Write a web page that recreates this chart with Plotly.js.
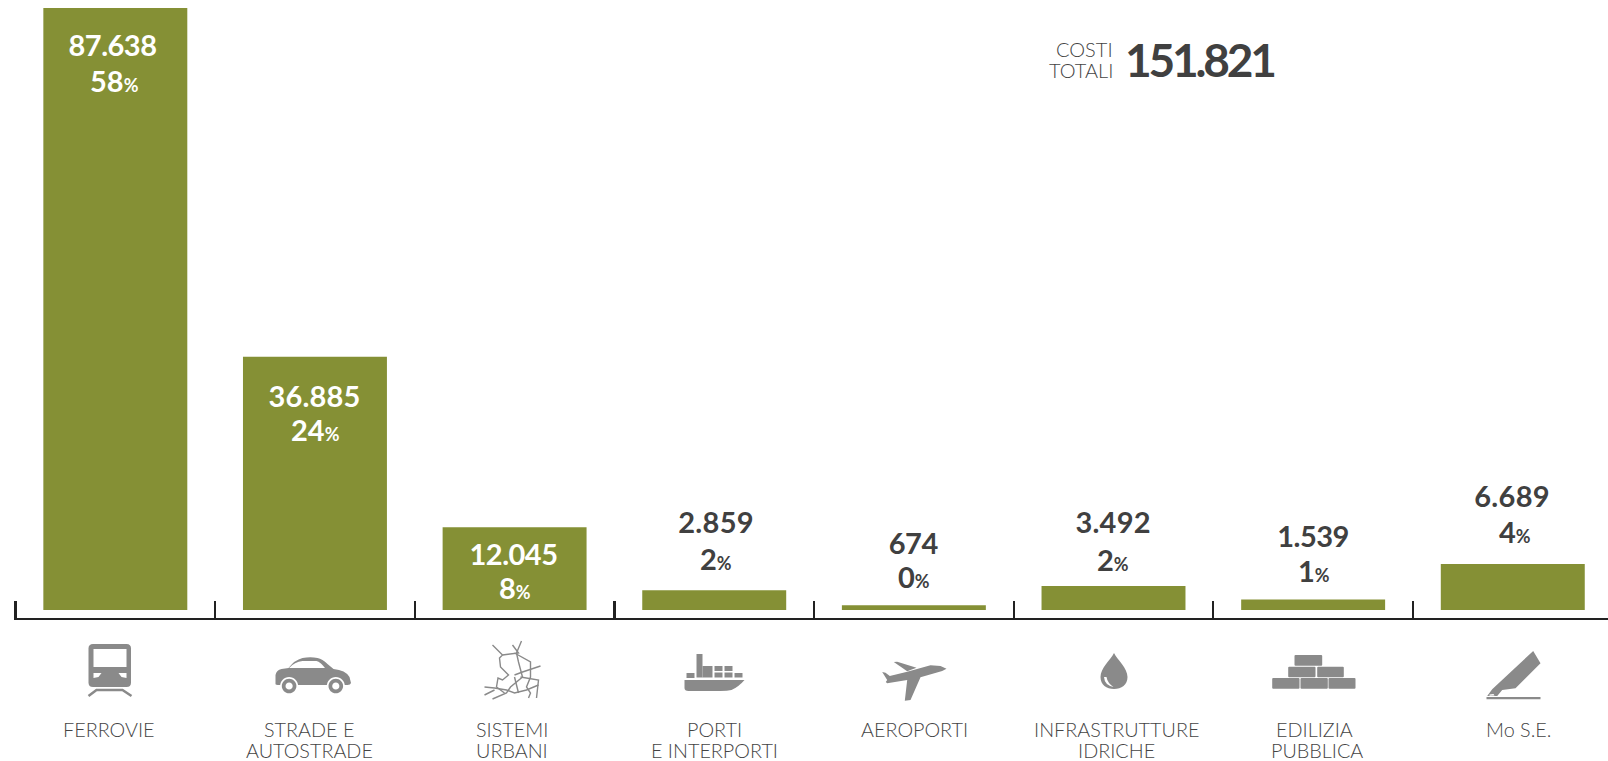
<!DOCTYPE html>
<html><head><meta charset="utf-8">
<script src="https://cdn.plot.ly/plotly-3.0.1.min.js"></script>
<style>html,body{margin:0;padding:0;background:#fff;overflow:hidden}#c{width:1608px;height:761px}</style>
</head><body><div id="c"></div>
<script>
const categories = ["FERROVIE","STRADE E|AUTOSTRADE","SISTEMI|URBANI","PORTI|E INTERPORTI","AEROPORTI","INFRASTRUTTURE|IDRICHE","EDILIZIA|PUBBLICA","Mo S.E."];
const costs = [87638,36885,12045,2859,674,3492,1539,6689];
const percents = [58,24,8,2,0,2,1,4];
const totalCost = 151821;
const totalLabel = ["COSTI","TOTALI"];

const W=1608,H=761,L=13.5,AX=618,STEP=199.7;
const olive="#859035", dark="#404040", label="#444444", icon="#8a8a8a";
const fontFam="Lato, 'Open Sans', sans-serif";
const lightFam="Lato Light, Lato, sans-serif";
const px=v=>(v-L)/(W-L), py=v=>(AX-v)/AX;
const fmt=n=>String(n).replace(/\B(?=(\d{3})+$)/g,".");

// label placement (page pixels)
const valY=[45,395,553,521,542.5,521,535,495];
const pctY=[80,429,587,558,576.5,559,570,531];
const valX=[112,314,513,716,913,1113,1313,1512];
const pctX=[114,315,515,716,914,1113,1314,1515];
const valTrack=["-0.5px","0.2px","-0.5px","0.3px","-0.5px","0.2px","-0.5px","0.3px"];
const catX=[109,309,512,714,914,1116,1314,1518];
const ann=[];
function T(x,y,text,size,color,anchor,family){
  ann.push({xref:"paper",yref:"paper",x:px(x),y:py(y),text,showarrow:false,xanchor:anchor||"center",yanchor:"middle",
    font:{size,color,family:family||fontFam,weight:400},align:anchor||"center",borderpad:0,borderwidth:0});
  return ann.length-1;
}
const tight={};
costs.forEach((v,i)=>{
  const c=i<3?"#ffffff":dark;
  tight[T(valX[i],valY[i],"<b>"+fmt(v)+"</b>",29,c)]=valTrack[i];
  T(pctX[i],pctY[i],"<b>"+percents[i]+"<span style='font-size:18px'>%</span></b>",29,c);
});
categories.forEach((s,i)=>{
  s.split("|").forEach((ln,j)=>T(catX[i]+(ln==="PUBBLICA"?3:0),729+j*21,ln,19.8,label,"center",lightFam));
});
T(1113,49.5,totalLabel[0],20,label,"right",lightFam);
T(1113,70.5,totalLabel[1],20,label,"right",lightFam);
tight[T(1125,59.5,"<b>"+fmt(totalCost)+"</b>",46,dark,"left")]="-3.2px";

// pictograms: page-pixel outlines converted for pixel-sized shapes
const conv=d=>d.replace(/(-?[\d.]+),(-?[\d.]+)/g,(m,a,b)=>(+a-L).toFixed(1)+","+(AX-b).toFixed(1));
const shapes=[];
function P(d,fill,lineColor,lw){
  shapes.push({type:"path",xref:"paper",yref:"paper",xsizemode:"pixel",ysizemode:"pixel",xanchor:0,yanchor:0,layer:"above",
    path:conv(d),fillcolor:fill||"rgba(0,0,0,0)",line:{color:lineColor||"rgba(0,0,0,0)",width:lw||0}});
}
const R=(a,b,c,d)=>`M${a},${b} L${c},${b} L${c},${d} L${a},${d} Z`;
const RR=(a,b,c,d,r=1)=>`M${a+r},${b} L${c-r},${b} Q${c},${b} ${c},${b+r} L${c},${d-r} Q${c},${d} ${c-r},${d} L${a+r},${d} Q${a},${d} ${a},${d-r} L${a},${b+r} Q${a},${b} ${a+r},${b} Z`;
const C=(x,y,r)=>{const k=r*.5523;return `M${x-r},${y} C${x-r},${y-k} ${x-k},${y-r} ${x},${y-r} C${x+k},${y-r} ${x+r},${y-k} ${x+r},${y} C${x+r},${y+k} ${x+k},${y+r} ${x},${y+r} C${x-k},${y+r} ${x-r},${y+k} ${x-r},${y} Z`;};
const PL=a=>"M"+a.map(p=>p.join(",")).join(" L");

// train
P(RR(88,644,130.5,687,4.5),icon);
P(R(93,649,126,667),"#fff");
P("M93,673 L101,673 L98,677 L93,678 Z","#fff");
P("M126,673 L118,673 L121,677 L126,678 Z","#fff");
P("M88,696 L96,690 L122,690 L131,696",null,icon,2.5);
// car
P("M275,684 L275,675 Q276,670 281,669 L288,668 Q294,660 302,658 Q310,656.5 317,658 Q322,659 327,664 L333,669 Q345,670 349,677 L350.5,683 Q350,685 347,685 L279,685 Q275,685 275,684 Z",icon);
P("M288.5,668 Q294,662 302,661 L316,661 Q320,662 324.5,668 Z","#fff");
[288.6,335.3].forEach(x=>{P(C(x,686,9),"#fff");P(C(x,686,7.3),icon);P(C(x,686,3.6),"#fff");});
// urban network
[[[492,645],[502,655],[499,658],[500,667],[508,675],[502,680],[497.5,678],[496,687],[504,693]],
 [[514,653],[530,662],[530,677],[526,687],[530,693],[528,698]],
 [[521,641],[516,653],[518,662],[522,677],[510,687],[506,693],[492,699]],
 [[484,687],[494,688],[506,690],[514,693],[526,690],[538,685]],
 [[540,666],[522,672],[514,675]],
 [[512,645],[518,653],[502,655]],
 [[520,677],[538,680],[536,698]],
 [[484,695],[494,690]],
 [[514,677],[518,693]]].forEach(a=>P(PL(a),null,icon,1.4));
// ship
P("M684,680 L744,680 Q738,687 731,690 Q727,691 720,691 L688,691 Q684,691 684,688 Z",icon);
P(R(696,654,702,677.5),icon); P(R(702,666,712,677.5),icon);
P(R(686,673,694,678),icon);
[[714,666,722,671],[714,672.5,722,677.5],[724,666,732,671],[724,672.5,732,677.5],[734,673,742,677.5]].forEach(r=>P(R(...r),icon));
// plane
P("M881.7,672 L885,672.7 L889.3,676 L906.7,671.7 L930,665.3 L940,666 L946,668.7 L941.7,671 L920,677.3 L910,700 L904.3,700.7 L906.7,680 L886.7,683.3 L885.3,682 L886.7,680 Z",icon);
P("M893.3,662 L896.7,661.7 L916,667.7 L906.7,671.3 Z",icon);
// drop
P("M1113.5,653 C1110,660 1100,668 1100,677 C1100,685 1106,689 1113.5,689 C1121,689 1127,685 1127,677 C1127,668 1117,660 1113.5,653 Z",icon);
P("M1103.5,677 Q1104,685 1113,687 Q1107,683 1106,677 Z","#fff");
// bricks
[[1294,655,1321.7,665.7],[1287.7,666.7,1315,677.3],[1316.7,666.7,1343.3,677.3],[1271.7,678,1299,688.7],[1300,678,1327.3,688.7],[1328,678,1355,688.7]].forEach(r=>P(RR(...r),icon));
// pencil
P("M1532.7,651 L1540,663.3 L1515,688.3 L1501.7,690 L1496.7,696 L1486.7,696 L1491.7,689.3 Z",icon);
P(R(1486,697,1540,699.3),icon);
P("M1489,694.5 L1493,694 L1494,695.5 L1489,695.7 Z","#fff");

const xs=categories.map((_,i)=>i);
const yPerPx=87638/602;
Plotly.newPlot("c",[{type:"bar",x:xs,y:costs,width:144/STEP,marker:{color:olive,line:{width:0}},hoverinfo:"skip"}],{
  width:W,height:H,paper_bgcolor:"#fff",plot_bgcolor:"#fff",showlegend:false,
  margin:{l:L,r:0,t:0,b:H-AX,pad:0},
  xaxis:{range:[-0.5-1.5/STEP,-0.5+(W-15)/STEP],tickmode:"array",tickvals:xs.map(i=>i-0.5),ticktext:xs.map(()=>""),ticks:"inside",ticklen:17,tickwidth:2.2,tickcolor:"#222",
    showline:true,linecolor:"#222",linewidth:2.4,showgrid:false,zeroline:false,fixedrange:true},
  yaxis:{range:[-8*yPerPx,610*yPerPx],visible:false,showgrid:false,zeroline:false,fixedrange:true},
  annotations:ann,shapes
},{displayModeBar:false,staticPlot:true}).then(gd=>{
  gd.querySelectorAll(".annotation").forEach(g=>{
    const sp=tight[g.getAttribute("data-index")];
    if(sp){const t=g.querySelector("text");if(t)t.style.letterSpacing=sp;}
  });
});
</script></body></html>
